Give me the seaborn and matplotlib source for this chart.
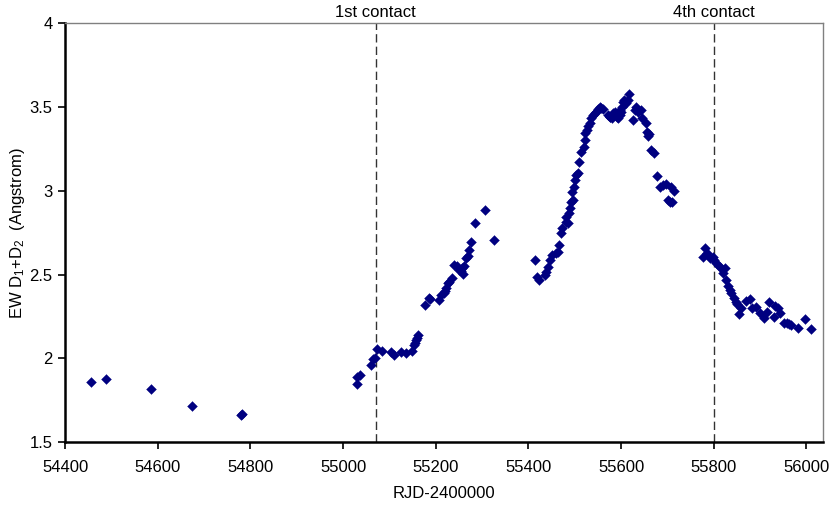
import matplotlib
matplotlib.use("Agg")
import matplotlib.pyplot as plt
import seaborn as sns
import pandas as pd

# Reduced Julian Date (RJD-2400000) of each spectrum
rjd = [
    54455, 54489, 54585, 54675, 54780, 54781,
    55030, 55031, 55036, 55061, 55065, 55068, 55073, 55083, 55103, 55110,
    55124, 55135, 55149, 55153, 55156, 55158, 55160, 55162,
    55176, 55185, 55187, 55208, 55212, 55217, 55221, 55223, 55226, 55229,
    55234, 55240, 55245, 55250, 55255, 55257, 55259, 55261, 55265, 55270,
    55271, 55275, 55285, 55307, 55326,
    55415, 55418, 55423, 55435, 55438, 55442, 55446, 55451, 55459, 55464,
    55467, 55471, 55473, 55480, 55485, 55482, 55487, 55490, 55492, 55496,
    55495, 55498, 55500, 55503, 55507, 55510, 55514, 55520, 55521, 55523,
    55526, 55529, 55532, 55536, 55539, 55543, 55546, 55550, 55554, 55557,
    55561, 55572, 55575, 55577, 55580, 55582, 55584, 55586, 55589, 55591,
    55593, 55595, 55597, 55598, 55600, 55602, 55604, 55607, 55611, 55615,
    55617, 55625, 55629, 55633, 55636, 55643, 55646, 55654, 55656, 55658,
    55660, 55665, 55671, 55678, 55683, 55690, 55697, 55701, 55706, 55710,
    55708, 55714,
    55776, 55780, 55785, 55791, 55798, 55801, 55805, 55811, 55816, 55819,
    55825, 55827, 55830, 55834, 55837, 55843, 55847, 55850, 55855, 55859,
    55870, 55878, 55883, 55890, 55900, 55908, 55914, 55919, 55929, 55933,
    55938, 55942, 55952, 55957, 55962, 55967, 55981, 55996, 56009,
]

# Equivalent width of the Na I D1+D2 doublet (Angstrom)
ew = [
    1.860, 1.876, 1.818, 1.718, 1.660, 1.670,
    1.846, 1.890, 1.900, 1.960, 1.995, 2.005, 2.055, 2.045, 2.040, 2.020,
    2.040, 2.035, 2.045, 2.080, 2.095, 2.110, 2.125, 2.140,
    2.320, 2.363, 2.355, 2.350, 2.380, 2.390, 2.405, 2.420, 2.450, 2.455,
    2.480, 2.558, 2.550, 2.530, 2.520, 2.540, 2.505, 2.550, 2.600, 2.610,
    2.650, 2.697, 2.806, 2.886, 2.707,
    2.588, 2.488, 2.470, 2.498, 2.518, 2.548, 2.588, 2.618, 2.627, 2.637,
    2.677, 2.747, 2.777, 2.817, 2.807, 2.846, 2.866, 2.896, 2.936, 2.946,
    2.995, 3.025, 3.065, 3.095, 3.105, 3.174, 3.234, 3.264, 3.304, 3.343,
    3.363, 3.387, 3.403, 3.433, 3.453, 3.463, 3.473, 3.487, 3.503, 3.493,
    3.487, 3.453, 3.440, 3.443, 3.433, 3.463, 3.450, 3.473, 3.453, 3.440,
    3.433, 3.465, 3.453, 3.483, 3.470, 3.503, 3.532, 3.542, 3.522, 3.542,
    3.576, 3.423, 3.483, 3.503, 3.473, 3.483, 3.433, 3.403, 3.353, 3.328,
    3.339, 3.244, 3.228, 3.089, 3.025, 3.035, 3.039, 2.946, 2.936, 2.936,
    3.021, 3.001,
    2.607, 2.657, 2.627, 2.597, 2.607, 2.588, 2.568, 2.552, 2.538, 2.508,
    2.538, 2.468, 2.432, 2.408, 2.389, 2.359, 2.339, 2.325, 2.263, 2.299,
    2.343, 2.353, 2.299, 2.305, 2.269, 2.240, 2.279, 2.339, 2.250, 2.313,
    2.299, 2.269, 2.214, 2.210, 2.206, 2.200, 2.180, 2.235, 2.174,
]

# Eclipse contact epochs
contacts = [55070, 55800]
contact_labels = ["1st contact", "4th contact"]

x_ticks = [54400, 54600, 54800, 55000, 55200, 55400, 55600, 55800, 56000]
y_ticks = [1.5, 2.0, 2.5, 3.0, 3.5, 4.0]
y_tick_labels = ["1.5", "2", "2.5", "3", "3.5", "4"]

sns.set_style("white")
plt.rcParams["font.family"] = ["Liberation Sans", "DejaVu Sans"]
plt.rcParams["mathtext.fontset"] = "custom"
plt.rcParams["mathtext.rm"] = "Liberation Sans"
plt.rcParams["mathtext.it"] = "Liberation Sans"
plt.rcParams["text.color"] = "black"
plt.rcParams["axes.labelcolor"] = "black"
plt.rcParams["xtick.color"] = "black"
plt.rcParams["ytick.color"] = "black"

df = pd.DataFrame({"rjd": rjd, "ew": ew})

fig = plt.figure(figsize=(8.36, 5.07), dpi=100)
ax = fig.add_axes([0.0778, 0.1276, 0.9063, 0.8265])

sns.scatterplot(data=df, x="rjd", y="ew", ax=ax, marker="D", s=25,
                color="#000080", edgecolor="#000080", linewidth=0.3, zorder=3)

for xc, lab in zip(contacts, contact_labels):
    ax.axvline(xc, color="#333333", lw=1.0, ls=(0, (6, 3)), zorder=2)
    ax.text(xc, 4.02, lab, ha="center", va="bottom", fontsize=12)

ax.set_xlim(54400, 56035)
ax.set_ylim(1.5, 4.0)
ax.set_xticks(x_ticks)
ax.set_xticklabels([str(t) for t in x_ticks], fontsize=12)
ax.set_yticks(y_ticks)
ax.set_yticklabels(y_tick_labels, fontsize=12)

ax.set_xlabel("RJD-2400000", fontsize=12, labelpad=8)
ax.set_ylabel(r"EW D$_{\mathregular{1}}$+D$_{\mathregular{2}}$  (Angstrom)",
              fontsize=12, labelpad=2)

for side in ["left", "bottom"]:
    ax.spines[side].set_color("black")
    ax.spines[side].set_linewidth(1.8)
for side in ["top", "right"]:
    ax.spines[side].set_visible(True)
    ax.spines[side].set_color("#808080")
    ax.spines[side].set_linewidth(1.0)

ax.tick_params(axis="both", which="major", direction="out", length=5,
               width=1.2, color="black", bottom=True, left=True,
               top=False, right=False)
ax.tick_params(axis="x", pad=8)
ax.tick_params(axis="y", pad=4)

fig.savefig("out.png", dpi=100)
